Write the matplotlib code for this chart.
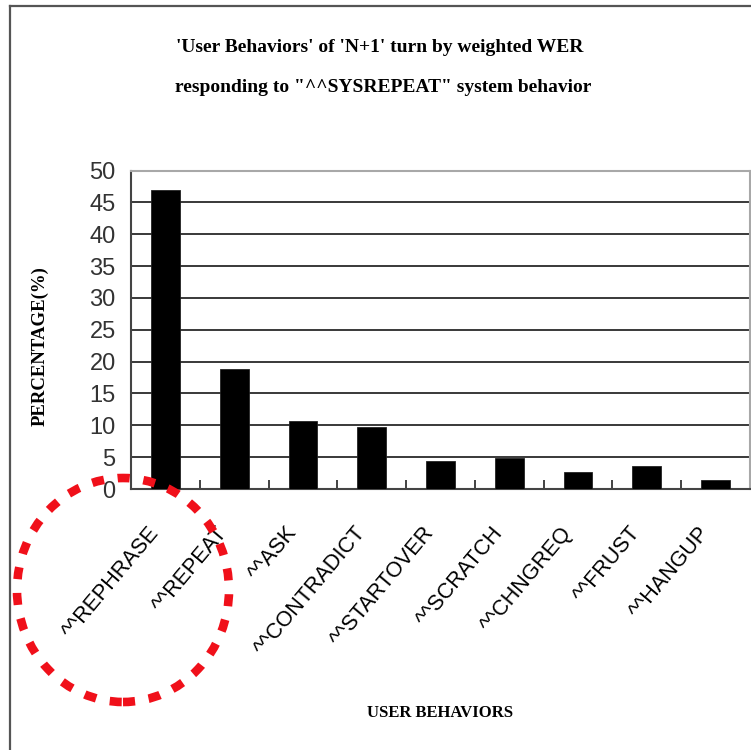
import matplotlib
matplotlib.use('Agg')
import matplotlib.pyplot as plt
from matplotlib.patches import Ellipse
from matplotlib.lines import Line2D
from matplotlib.transforms import ScaledTranslation

# Chart data
behaviors = ['^^REPHRASE', '^^REPEAT', '^^ASK', '^^CONTRADICT', '^^STARTOVER',
             '^^SCRATCH', '^^CHNGREQ', '^^FRUST', '^^HANGUP']
percentage = [46.9, 18.8, 10.7, 9.8, 4.4, 4.8, 2.6, 3.6, 1.4]
yticks = list(range(0, 55, 5))

title_lines = ["'User Behaviors' of 'N+1' turn by weighted WER",
               "responding to \"^^SYSREPEAT\" system behavior"]
xlabel = 'USER BEHAVIORS'
ylabel = 'PERCENTAGE(%)'

W, H = 751, 750
sans = ['Liberation Sans', 'DejaVu Sans']
serif = ['Liberation Serif', 'DejaVu Serif']

fig = plt.figure(figsize=(W / 100, H / 100), dpi=100)
fig.patch.set_facecolor('white')

# Plot area in pixels (left, top, right, bottom)
l, t, r, b = 131, 170.5, 750, 489
ax = fig.add_axes([l / W, 1 - b / H, (r - l) / W, (b - t) / H])

x = list(range(len(behaviors)))
ax.bar(x, percentage, width=0.42, color='black', edgecolor='#222222',
       linewidth=0.6, zorder=3)

ax.set_xlim(-0.5, len(behaviors) - 0.5)
ax.set_ylim(0, 50)

# Horizontal grid lines
ax.set_yticks(yticks)
ax.set_yticklabels([str(v) for v in yticks], family=sans, fontsize=17,
                   color='#333333')
ax.yaxis.grid(True, color='#2a2a2a', linewidth=1.3)
ax.set_axisbelow(True)
ax.tick_params(axis='y', length=0, pad=11)

# Ticks between categories, labels under the bars
ax.set_xticks([i + 0.5 for i in x[:-1]])
ax.set_xticklabels([])
ax.tick_params(axis='x', which='major', direction='in', length=6.5,
               width=1.2, color='#222222')
ax.set_xticks(x, minor=True)
ax.set_xticklabels(behaviors, minor=True, rotation=50, ha='right',
                   va='center', rotation_mode='anchor', family=sans,
                   fontsize=15.5)
ax.tick_params(axis='x', which='minor', length=0, pad=29)
shift = ScaledTranslation(-10 / 100, 0, fig.dpi_scale_trans)
for lab in ax.get_xticklabels(minor=True):
    lab.set_transform(lab.get_transform() + shift)

for s in ['left', 'bottom']:
    ax.spines[s].set_color('#444444')
    ax.spines[s].set_linewidth(1.5)
for s in ['top', 'right']:
    ax.spines[s].set_color('#a8a8a8')
    ax.spines[s].set_linewidth(1.5)

# Titles and axis labels
fig.text(380 / W, 1 - 47 / H, title_lines[0], ha='center', va='center',
         family=serif, fontsize=14, fontweight='bold')
fig.text(383 / W, 1 - 88 / H, title_lines[1], ha='center', va='center',
         family=serif, fontsize=14, fontweight='bold')
fig.text(440 / W, 1 - 713 / H, xlabel, ha='center', va='center',
         family=serif, fontsize=12, fontweight='bold')
fig.text(40 / W, 1 - 346 / H, ylabel, ha='center', va='center',
         rotation=90, family=serif, fontsize=13.5, fontweight='bold')

# Outer frame (left and top edges)
fig.add_artist(Line2D([10 / W, 10 / W], [0, 1 - 6 / H], color='#555555',
                      linewidth=1.6, transform=fig.transFigure))
fig.add_artist(Line2D([10 / W, 1], [1 - 6 / H, 1 - 6 / H], color='#555555',
                      linewidth=1.6, transform=fig.transFigure))

# Red dotted highlight circle
fig.add_artist(Ellipse((123 / W, 1 - 590 / H), 212 / W, 224 / H,
                       transform=fig.transFigure, fill=False,
                       edgecolor='#f0101a', linewidth=6.2,
                       linestyle=(0, (1.4, 1.6)), zorder=10))

fig.savefig('out.png', dpi=100)
